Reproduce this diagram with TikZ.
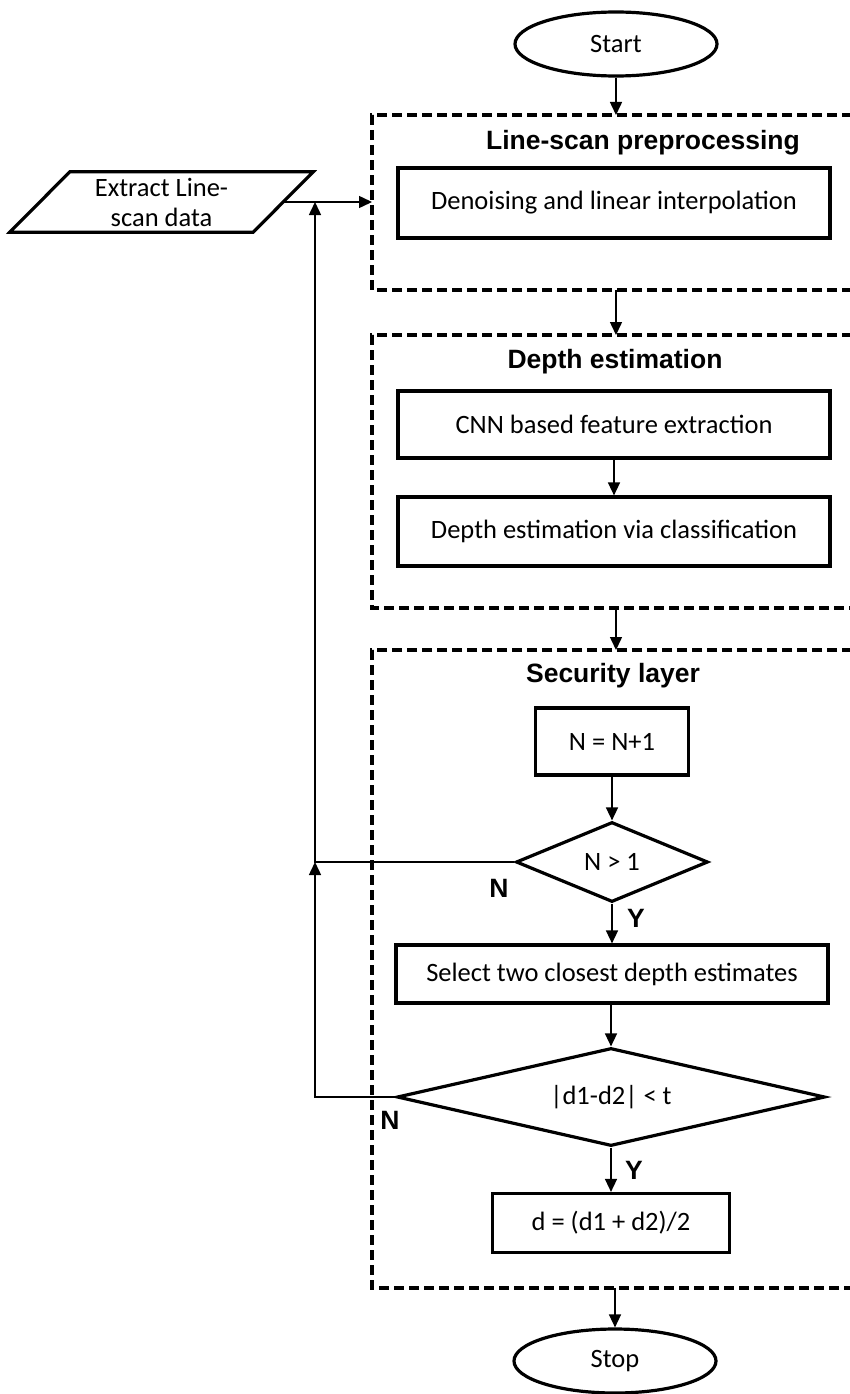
\documentclass[tikz,border=0pt]{standalone}
\usepackage{fontspec}
\setmainfont{Carlito}
\newfontfamily\hfont{Liberation Sans}
\usetikzlibrary{shapes.geometric,arrows.meta}
\tikzset{
  body/.style={font=\fontsize{26.5}{30}\selectfont},
  term/.style={body,draw,ellipse,line width=3.2pt,minimum width=202pt,minimum height=64pt,inner sep=0pt},
  procbox/.style={body,draw,rectangle,line width=3.2pt,inner sep=0pt},
  decision/.style={body,draw,diamond,line width=3.2pt,inner sep=0pt},
  hdr/.style={font=\hfont\bfseries\fontsize{26.5}{30}\selectfont,inner sep=0pt},
  lbl/.style={font=\hfont\bfseries\fontsize{26.5}{30}\selectfont,inner sep=0pt},
  grp/.style={line width=3.2pt,dash pattern=on 10pt off 5pt},
  arr/.style={line width=1.5pt,-{Triangle[length=13pt,width=12pt]}},
}
\begin{document}
\begin{tikzpicture}[x=1pt,y=-1pt]
\useasboundingbox (0,0) rectangle (850,1394);

% terminals
\node[term] (start) at (616,44) {Start};
\node[term] (stop) at (615,1361) {Stop};

% input parallelogram
\node[body,minimum width=243pt,minimum height=60pt,inner sep=0pt,align=center] (ext) at (161.5,202) {Extract Line-\\scan data};
\draw[line width=3.2pt,line join=miter]
  ([xshift=30pt]ext.north west) -- ([xshift=30pt]ext.north east)
  -- ([xshift=-30pt]ext.south east) -- ([xshift=-30pt]ext.south west) -- cycle;

% group 1
\coordinate (g1t) at (616,115);
\coordinate (g1b) at (616,290);
\coordinate (g1w) at (372,202);
\draw[grp] (852,115) -| (372,290) -- (852,290);
\node[hdr] (h1) at (643,143) {Line-scan preprocessing};
\node[procbox,minimum width=432pt,minimum height=70pt] (b1) at (614,203) {Denoising and linear interpolation};

% group 2
\coordinate (g2t) at (616,335);
\coordinate (g2b) at (616,608);
\draw[grp] (852,335) -| (372,608) -- (852,608);
\node[hdr] (h2) at (615,362) {Depth estimation};
\node[procbox,minimum width=432pt,minimum height=67pt] (b2) at (614,424.5) {CNN based feature extraction};
\node[procbox,minimum width=432pt,minimum height=69pt] (b3) at (614,531.5) {Depth estimation via classification};

% group 3
\coordinate (g3t) at (616,650);
\coordinate (g3b) at (615,1288);
\draw[grp] (852,650) -| (372,1288) -- (852,1288);
\node[hdr] (h3) at (613,676) {Security layer};
\node[procbox,minimum width=153pt,minimum height=67pt] (b4) at (612,741.5) {N = N+1};
\node[decision,shape aspect=2.4,minimum width=192pt,minimum height=80pt] (d1) at (612,862) {N > 1};
\node[procbox,minimum width=432pt,minimum height=58pt] (b5) at (612,974) {Select two closest depth estimates};
\node[decision,shape aspect=4.37,minimum width=428pt,minimum height=98pt] (d2) at (611,1097) {|d1-d2| < t};
\node[procbox,minimum width=237pt,minimum height=59pt] (b6) at (611,1223) {d = (d1 + d2)/2};

% labels
\node[lbl] (n1) at (499,888) {N};
\node[lbl] (y1) at (636,918) {Y};
\node[lbl] (n2) at (390,1120) {N};
\node[lbl] (y2) at (634,1170) {Y};

% connectors
\coordinate (lp) at (315,862);
\draw[arr] (start) -- (g1t);
\draw[arr] (ext.east) -- (g1w);
\draw[arr] (g1b) -- (g2t);
\draw[arr] (b2) -- (b3);
\draw[arr] (g2b) -- (g3t);
\draw[arr] (b4) -- (d1);
\draw[arr] (d1) -- (b5);
\draw[arr] (b5.south -| d2) -- (d2);
\draw[arr] (d2) -- (b6);
\draw[arr] (g3b) -- (stop);
\draw[arr] (d2.west) -- (d2.west -| lp) -- (lp);
\draw[arr] (d1.west) -- (lp) -- (ext.east -| lp);
\end{tikzpicture}
\end{document}
